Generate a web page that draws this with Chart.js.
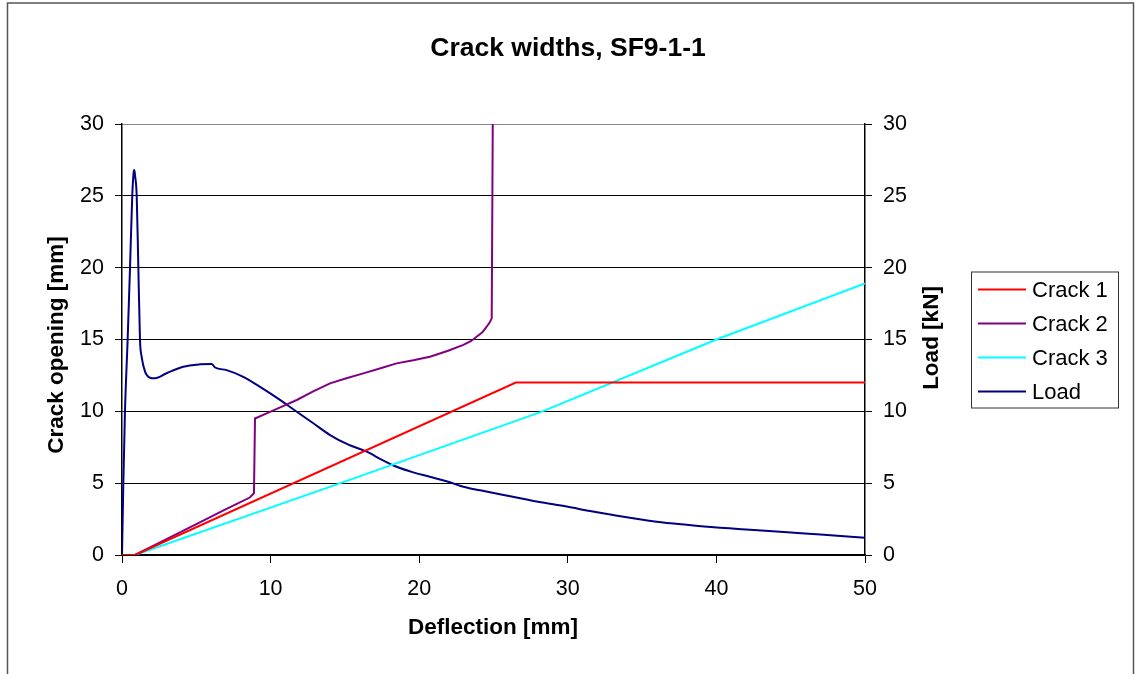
<!DOCTYPE html>
<html>
<head>
<meta charset="utf-8">
<title>Crack widths, SF9-1-1</title>
<script src="https://cdn.jsdelivr.net/npm/chart.js@4/dist/chart.umd.min.js"></script>
<style>
  html, body { margin: 0; padding: 0; background: #fff; }
  canvas { display: block; }
</style>
</head>
<body>
<canvas id="chart" width="1135" height="674"></canvas>
<script>
// Deflection [mm] / crack opening [mm] for each crack
const crack1Defl = [0, 0.88, 26.5, 50];
const crack1Open = [0, 0, 12.0, 12.0];

const crack2Defl = [0, 0.88, 3.0, 5.0, 7.0, 8.6, 8.88, 8.95, 9.73, 10.8, 11.76, 12.9, 14.0, 15.1, 16.24, 17.4, 18.48, 19.6, 20.72, 21.9, 22.97, 23.5, 23.86, 24.25, 24.54, 24.75, 24.88, 24.95];
const crack2Open = [0, 0, 1.1, 2.15, 3.2, 4.0, 4.3, 9.5, 9.86, 10.35, 10.79, 11.4, 11.95, 12.3, 12.64, 13.0, 13.34, 13.55, 13.8, 14.2, 14.62, 14.9, 15.19, 15.5, 15.89, 16.2, 16.47, 30];

const crack3Defl = [0, 0.88, 14.7, 28.3, 40.0, 50];
const crack3Open = [0, 0, 5.0, 10.0, 15.0, 18.9];

// Deflection [mm] / load [kN]
const loadDefl = [0, 0.09, 0.2, 0.38, 0.54, 0.69, 0.78, 0.83, 0.88, 0.99, 1.1, 1.21, 1.32, 1.55, 1.88, 2.22, 3.0, 4.12, 5.25, 6.03, 6.26, 7.04, 8.16, 9.29, 10.63, 11.76, 12.9, 14.0, 15.2, 16.47, 17.5, 18.48, 19.6, 20.72, 22.0, 22.97, 24.1, 26.3, 28.0, 29.92, 31.5, 33.06, 35.98, 38.0, 40.02, 42.0, 44.3, 47.0, 50];
const loadKN   = [0, 5, 10, 15, 20, 25, 26.6, 26.8, 26.4, 25, 20, 15, 13.8, 12.76, 12.34, 12.3, 12.65, 13.1, 13.27, 13.3, 13.05, 12.87, 12.4, 11.7, 10.8, 9.97, 9.15, 8.35, 7.7, 7.19, 6.62, 6.14, 5.75, 5.45, 5.08, 4.75, 4.5, 4.05, 3.7, 3.37, 3.06, 2.78, 2.32, 2.1, 1.91, 1.78, 1.62, 1.42, 1.2];

const xTicks = [0, 10, 20, 30, 40, 50];
const yTicks = [0, 5, 10, 15, 20, 25, 30];

const chartTitle = 'Crack widths, SF9-1-1';
const xTitle = 'Deflection [mm]';
const yTitle = 'Crack opening [mm]';
const y2Title = 'Load [kN]';

const FONT = '"Liberation Sans", Arial, sans-serif';

function pts(xs, ys) { return xs.map((x, i) => ({ x: x, y: ys[i] })); }

const series = [
  { label: 'Crack 1', data: pts(crack1Defl, crack1Open), borderColor: '#ff0000', yAxisID: 'y' },
  { label: 'Crack 2', data: pts(crack2Defl, crack2Open), borderColor: '#800080', yAxisID: 'y' },
  { label: 'Crack 3', data: pts(crack3Defl, crack3Open), borderColor: '#00ffff', yAxisID: 'y' },
  { label: 'Load',    data: pts(loadDefl, loadKN),       borderColor: '#000080', yAxisID: 'y2', cubicInterpolationMode: 'monotone' }
];

// Frame, title, axis titles and boxed legend
const decorations = {
  id: 'decorations',
  beforeDraw(chart) {
    const c = chart.ctx;
    c.save();
    c.fillStyle = '#fff';
    c.fillRect(0, 0, chart.width, chart.height);
    c.restore();
  },
  afterDraw(chart) {
    const c = chart.ctx;
    const a = chart.chartArea;
    c.save();
    // figure frame
    c.strokeStyle = '#555';
    c.lineWidth = 1.5;
    c.strokeRect(7.5, 3, 1126, 720);

    c.fillStyle = '#000';
    c.textAlign = 'center';
    c.textBaseline = 'middle';
    c.font = 'bold 26.5px ' + FONT;
    c.fillText(chartTitle, 568, 48.5);

    c.font = 'bold 22.5px ' + FONT;
    c.fillText(xTitle, (a.left + a.right) / 2 - 0.5, 628);

    c.save();
    c.translate(57, 345);
    c.rotate(-Math.PI / 2);
    c.fillText(yTitle, 0, 0);
    c.restore();

    c.save();
    c.translate(932, 338);
    c.rotate(-Math.PI / 2);
    c.fillText(y2Title, 0, 0);
    c.restore();

    // legend
    const lx = 971.5, ly = 272, lw = 147, lh = 136;
    c.strokeStyle = '#333';
    c.lineWidth = 1;
    c.strokeRect(lx, ly, lw, lh);
    c.font = '22px ' + FONT;
    c.textAlign = 'left';
    chart.data.datasets.forEach((ds, i) => {
      const yy = 289.5 + i * 34;
      c.strokeStyle = ds.borderColor;
      c.lineWidth = 2;
      c.beginPath();
      c.moveTo(978, yy);
      c.lineTo(1026, yy);
      c.stroke();
      c.fillStyle = '#000';
      c.fillText(ds.label, 1032, yy + 1);
    });
    c.restore();
  }
};

const tickFont = { family: FONT, size: 21.5 };

new Chart(document.getElementById('chart'), {
  type: 'line',
  data: {
    datasets: series.map(s => Object.assign({
      borderWidth: 2,
      pointRadius: 0,
      pointHoverRadius: 0,
      tension: 0,
      fill: false
    }, s))
  },
  plugins: [decorations],
  options: {
    responsive: false,
    animation: false,
    events: [],
    layout: { padding: { left: 0, right: 0, top: 124, bottom: 0 } },
    plugins: {
      legend: { display: false },
      title: { display: false },
      tooltip: { enabled: false }
    },
    scales: {
      x: {
        type: 'linear',
        position: 'bottom',
        min: 0, max: 50,
        afterBuildTicks: s => { s.ticks = xTicks.map(v => ({ value: v })); },
        afterFit: s => { s.height = 119; },
        ticks: { font: tickFont, color: '#000', padding: 13, maxRotation: 0 },
        grid: { drawOnChartArea: false, drawTicks: true, tickLength: 8, color: '#000', lineWidth: 1 },
        border: { color: '#000', width: 1.5 }
      },
      y: {
        type: 'linear',
        position: 'left',
        min: 0, max: 30,
        afterBuildTicks: s => { s.ticks = yTicks.map(v => ({ value: v })); },
        afterFit: s => { s.width = 122; },
        ticks: { font: tickFont, color: '#000', padding: 11 },
        grid: {
          color: ctx => (ctx.tick && ctx.tick.value === 30 ? '#888' : '#000'),
          tickColor: '#000',
          lineWidth: 1,
          tickLength: 7
        },
        border: { color: '#000', width: 1.5 }
      },
      y2: {
        type: 'linear',
        position: 'right',
        min: 0, max: 30,
        afterBuildTicks: s => { s.ticks = yTicks.map(v => ({ value: v })); },
        afterFit: s => { s.width = 270; },
        ticks: { font: tickFont, color: '#000', padding: 11 },
        grid: { drawOnChartArea: false, color: '#000', lineWidth: 1, tickLength: 7 },
        border: { color: '#000', width: 1.5 }
      }
    }
  }
});
</script>
</body>
</html>
